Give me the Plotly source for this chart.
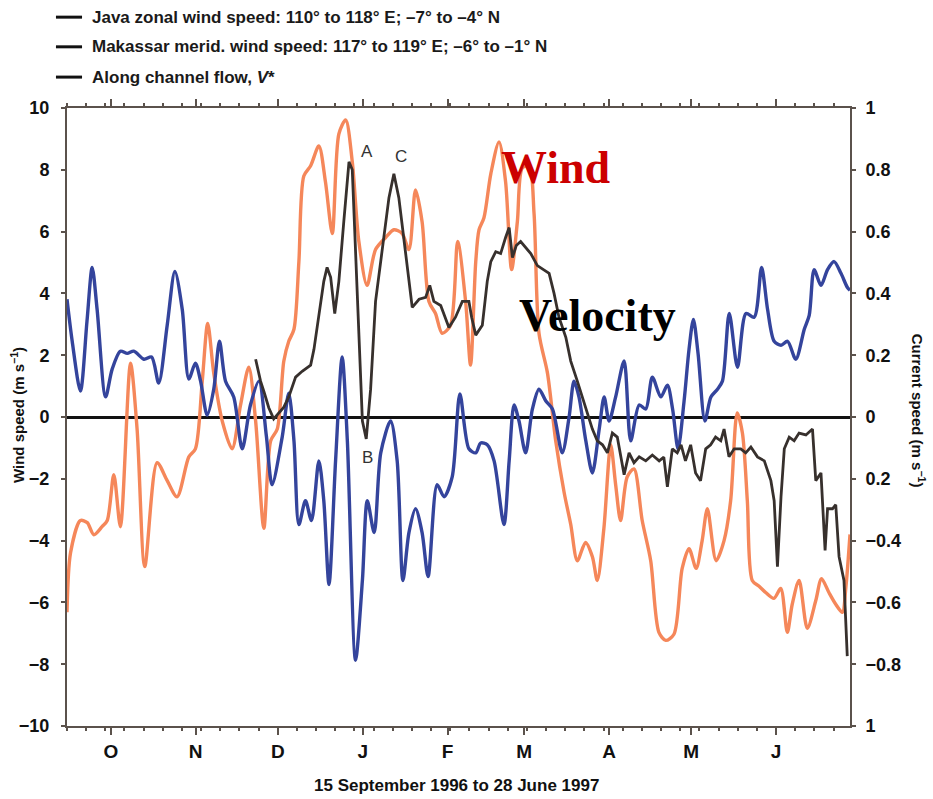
import pandas as pd
import plotly.graph_objects as go

START = pd.Timestamp("1996-09-15")
END = pd.Timestamp("1997-06-28")

# Java zonal wind speed (m/s): day offset from 15 Sep 1996, value
java_days = [0, 1.3, 4.9, 7.4, 9.8, 12.8, 14.7, 17.1, 19.5, 23.2, 25.6, 28.4, 32.9, 36.6, 40.2, 44.5,
             46.9, 49.4, 51.4, 53.6, 56.7, 60.3, 63.4, 66.4, 68.9, 71.9, 74.4, 76.8, 79.2, 81, 82.9,
             84.7, 86.5, 89, 92, 94.4, 96.9, 99.3, 101.8, 104.2, 106.6, 109.6, 112.7, 116.4, 119.4,
             122.4, 124.9, 127.3, 129.7, 132.2, 134.6, 137, 140.1, 142.7, 145.6, 147.4, 149.3, 150.5,
             152.3, 154.8, 157.8, 160.2, 162.4, 164.5, 166.3, 168.8, 170.6, 172.4, 175.5, 178.5,
             181.6, 184, 186.4, 189.4, 191.9, 193.7, 196.1, 198.6, 200.4, 202.2, 204.6, 207.1,
             210.1, 213.2, 216.2, 218.7, 221.7, 224.7, 227.2, 229.8, 232, 233.9, 237.1, 240, 242.4,
             244.8, 246.7, 248.5, 250.3, 252.8, 255.2, 258.2, 260.7, 263.1, 264.9, 267.4, 270.4,
             273.5, 275.6, 278.3, 280.8, 283.2, 284.5, 286]
java_vals = [-6.32, -4.39, -3.35, -3.42, -3.81, -3.55, -3.35, -1.87, -3.55, 1.74, -0.39, -4.84, -1.48,
             -2.06, -2.58, -1.29, -1.03, 1.16, 3.03, 1.42, -0.13, -1.03, 0.39, 1.61, -0.13, -3.6,
             -0.77, -0.39, 1.81, 2.45, 2.84, 5.03, 7.8, 8.13, 8.77, 7.61, 5.94, 9.16, 9.61, 8.26,
             5.68, 4.26, 5.42, 5.81, 6.06, 5.94, 5.42, 7.35, 6.32, 3.74, 3.35, 2.71, 2.97, 5.68,
             3.74, 1.68, 5.03, 6.06, 6.45, 7.87, 8.9, 7.61, 4.77, 6.32, 8.06, 8.13, 6.58, 2.71,
             1.42, -0.77, -2.45, -3.48, -4.65, -4.06, -4.52, -5.29, -3.61, -0.9, -2.19, -3.35,
             -1.94, -1.68, -3.35, -4.65, -6.97, -7.23, -7.03, -4.9, -4.26, -4.9, -4.0, -2.97,
             -4.65, -4.0, -2.71, 0.13, -0.52, -2.71, -5.29, -5.48, -5.68, -5.87, -5.55, -6.97,
             -6.06, -5.29, -6.84, -5.94, -5.23, -5.68, -6.06, -6.32, -5.5, -3.8]

# Makassar meridional wind speed (m/s)
mak_days = [0, 1.9, 4.9, 7.3, 9.2, 11, 14.1, 16.5, 19.5, 22, 24.4, 28.1, 30.9, 33.5, 36.6, 39.4,
            42.1, 44.5, 46.9, 48.8, 51.2, 53.6, 55.7, 57.9, 60.9, 64, 67, 70.1, 72.8, 74.9, 78.6,
            81, 82.9, 84.7, 87.1, 89.3, 92, 93.8, 95.7, 98.1, 100.5, 102.4, 105.4, 107.9, 109.7,
            112.2, 114.6, 118.2, 120.6, 122.7, 124.9, 127.3, 129.7, 131.9, 135.2, 137.7, 140.7,
            143.5, 146.8, 149.3, 151.1, 153.5, 156, 159.6, 161.5, 163.3, 165.1, 167.5, 170, 172.4,
            174.9, 177.3, 180.9, 183.4, 185.2, 187, 189.5, 191.9, 194.4, 196.2, 198, 200.4, 203.5,
            205.9, 209, 211.4, 213.8, 216.9, 219.3, 221.2, 223.2, 225.4, 227.2, 228.8, 230.5, 233,
            235.2, 237.6, 239.4, 241.9, 244.9, 248, 251, 253.7, 255.9, 258.3, 260.8, 263.2, 266.2,
            269.3, 271.1, 272.9, 275.4, 277.8, 280.2, 282.7, 285, 286]
mak_vals = [3.81, 2.45, 0.84, 3.1, 4.84, 3.48, 0.65, 1.55, 2.13, 2.06, 2.13, 1.87, 1.94, 1.1, 2.97,
            4.71, 3.48, 1.23, 1.74, 1.16, 0.06, 0.9, 2.45, 1.16, 0.65, -1.03, 0.39, 1.16, -0.6,
            -2.19, -0.65, 0.77, -0.77, -3.48, -2.71, -3.35, -1.42, -2.71, -5.42, -1.42, 1.94,
            -0.77, -7.87, -5.29, -2.71, -3.74, -1.16, -0.13, -1.42, -5.29, -3.74, -2.97, -3.74,
            -5.16, -2.19, -2.58, -1.94, 0.75, -1.03, -1.16, -0.84, -0.9, -1.42, -3.48, -1.42, 0.39,
            -0.13, -1.16, 0.26, 0.9, 0.52, 0.26, -1.16, 0.0, 1.16, 0.65, -0.77, -1.81, -0.39, 0.65,
            -0.13, 0.65, 1.81, -0.77, 0.39, 0.26, 1.29, 0.65, 1.03, 0.26, -1.03, 0.52, 2.19, 3.16,
            2.06, -0.13, 0.65, 0.9, 1.16, 3.35, 1.61, 3.35, 3.23, 4.84, 3.48, 2.45, 2.32, 2.45,
            1.87, 2.84, 3.29, 4.77, 4.26, 4.77, 5.03, 4.65, 4.2, 4.1]

# Along channel flow V* (current speed, m/s)
flow_days = [68.9, 70.7, 72, 73.7, 75.5, 77.4, 79.2, 81, 83.5, 85.9, 89, 90.2, 92, 93.8, 95, 96.3,
             97.8, 99.3, 101.1, 103, 104.2, 106, 107.9, 109.3, 110.9, 112.7, 115.2, 117.6, 119.4,
             121.2, 123.7, 126.1, 128.6, 131, 132.5, 134, 136.5, 139.5, 141.9, 144.4, 146.8, 147.8,
             149.3, 151.7, 153.5, 154.8, 156.6, 158.4, 160.2, 161.5, 162.7, 164.1, 165.7, 167.5,
             169.4, 171.8, 174.3, 176.1, 177.9, 179.7, 182.2, 184, 186.4, 188.3, 190.1, 191.9,
             193.7, 195.6, 197.4, 199.2, 201, 203.5, 205.3, 207.1, 209, 211.4, 213.8, 216.3, 218,
             219.3, 221.1, 222.9, 224.3, 225.9, 227.8, 229.6, 231.4, 233.3, 235.1, 236.9, 238.8,
             240, 241.8, 243.7, 246.1, 247.9, 249.8, 252.2, 254.7, 257.1, 258.3, 259.5, 260.8, 262,
             263.8, 265.6, 267.4, 269.9, 272.3, 273.5, 275.4, 276.9, 277.8, 279.6, 280.8, 282,
             283.8, 285]
flow_vals = [0.187, 0.116, 0.08, 0.03, -0.006, 0.013, 0.032, 0.065, 0.129, 0.148, 0.168, 0.219, 0.323,
             0.439, 0.484, 0.452, 0.335, 0.439, 0.632, 0.826, 0.80, 0.374, -0.013, -0.071, 0.09,
             0.374, 0.555, 0.71, 0.787, 0.71, 0.529, 0.355, 0.381, 0.387, 0.426, 0.374, 0.361, 0.29,
             0.323, 0.374, 0.374, 0.323, 0.265, 0.297, 0.439, 0.503, 0.535, 0.529, 0.581, 0.613,
             0.516, 0.555, 0.568, 0.548, 0.529, 0.49, 0.477, 0.465, 0.40, 0.323, 0.258, 0.181, 0.116,
             0.065, 0.013, -0.039, -0.077, -0.09, -0.116, -0.052, -0.065, -0.187, -0.116, -0.148,
             -0.129, -0.142, -0.123, -0.142, -0.13, -0.226, -0.103, -0.116, -0.09, -0.142, -0.09,
             -0.181, -0.206, -0.103, -0.09, -0.065, -0.077, -0.039, -0.129, -0.103, -0.103, -0.116,
             -0.097, -0.129, -0.142, -0.206, -0.271, -0.484, -0.258, -0.103, -0.065, -0.077, -0.052,
             -0.058, -0.039, -0.206, -0.181, -0.432, -0.297, -0.297, -0.284, -0.452, -0.529, -0.774]

month_ticks = ["1996-10-01", "1996-11-01", "1996-12-01", "1997-01-01", "1997-02-01", "1997-03-01",
               "1997-04-01", "1997-05-01", "1997-06-01"]
month_labels = ["O", "N", "D", "J", "F", "M", "A", "M", "J"]
left_ticks = [-10, -8, -6, -4, -2, 0, 2, 4, 6, 8, 10]
right_ticks = [-1, -0.8, -0.6, -0.4, -0.2, 0, 0.2, 0.4, 0.6, 0.8, 1]
right_labels = ["1", "\u22120.8", "\u22120.6", "\u22120.4", "0.2", "0", "0.2", "0.4", "0.6", "0.8", "1"]
legend_labels = ["Java zonal wind speed: 110\u00b0 to 118\u00b0 E; \u20137\u00b0 to \u20134\u00b0 N",
                 "Makassar merid. wind speed: 117\u00b0 to 119\u00b0 E; \u20136\u00b0 to \u20131\u00b0 N",
                 "Along channel flow, <i>V</i>*"]


def to_dates(days):
    return [START + pd.Timedelta(days=d) for d in days]


ORANGE = "#f5875a"
BLUE = "#34449c"
DARK = "#37302d"
AXC = "#5b524c"

fig = go.Figure()
fig.add_trace(go.Scatter(x=to_dates(java_days), y=java_vals, mode="lines",
                         line=dict(color=ORANGE, width=3.4, shape="spline", smoothing=0.8),
                         showlegend=False))
fig.add_trace(go.Scatter(x=to_dates(mak_days), y=mak_vals, mode="lines",
                         line=dict(color=BLUE, width=3.4, shape="spline", smoothing=0.8),
                         showlegend=False))
fig.add_trace(go.Scatter(x=to_dates(flow_days), y=flow_vals, mode="lines", yaxis="y2",
                         line=dict(color=DARK, width=2.8), showlegend=False))

tickfont = dict(family="Liberation Sans, Arial, sans-serif", size=18, color="#111", weight="bold")

fig.update_layout(
    width=933, height=799,
    margin=dict(l=67, r=83, t=108, b=73),
    paper_bgcolor="white", plot_bgcolor="white",
    xaxis=dict(type="date", range=[START, END], tickvals=month_ticks, ticktext=month_labels,
               ticks="outside", ticklen=7, tickwidth=1.5, tickcolor=AXC,
               minor=dict(dtick=7 * 86400000, tick0="1996-09-15", ticks="outside", ticklen=3,
                          tickcolor=AXC, showgrid=False),
               showline=True, linecolor=AXC, linewidth=2, mirror="ticks", showgrid=False,
               zeroline=False, tickfont=dict(family="Liberation Sans, Arial, sans-serif", size=19,
                                             color="#111", weight="bold")),
    yaxis=dict(range=[-10, 10], tickvals=left_ticks, ticks="outside", ticklen=4, tickwidth=2,
               tickcolor=AXC, showline=True, linecolor=AXC, linewidth=2, showgrid=False,
               zeroline=True, zerolinecolor="#111", zerolinewidth=2.5, tickfont=tickfont,
               ticklabelstandoff=8),
    yaxis2=dict(range=[-1, 1], overlaying="y", side="right", tickvals=right_ticks,
                ticktext=right_labels, ticks="outside", ticklen=4, tickwidth=2, tickcolor=AXC,
                showline=True, linecolor=AXC, linewidth=2, showgrid=False, zeroline=False,
                tickfont=tickfont, ticklabelstandoff=6),
)


def note(x, y, text, font, **kw):
    d = dict(x=x, y=y, xref="paper", yref="paper", text=text, showarrow=False,
             xanchor="center", yanchor="middle", font=font)
    d.update(kw)
    return d


ann = []
ann.append(note(-0.064, 0.503, "Wind speed (m s<sup>\u22121</sup>)",
                dict(family="Liberation Sans, Arial", size=15, color="#111", weight="bold"),
                textangle=-90))
ann.append(note(1.087, 0.51, "Current speed (m s<sup>\u22121</sup>)",
                dict(family="Liberation Sans, Arial", size=15, color="#111", weight="bold"),
                textangle=90))
ann.append(note(0.497, -0.097, "15 September 1996 to 28 June 1997",
                dict(family="Liberation Sans, Arial", size=17, color="#111", weight="bold")))
legend_y = [1.147, 1.099, 1.050]
for lab, ly in zip(legend_labels, legend_y):
    ann.append(note(0.0294, ly, lab,
                    dict(family="Liberation Sans Narrow, Arial Narrow, Liberation Sans", size=17,
                         color="#1a1a1a", weight="bold"), xanchor="left"))
lettfont = dict(family="Liberation Sans, Arial", size=17, color="#333")
ann.append(note(0.383, 0.929, "A", lettfont))
ann.append(note(0.426, 0.921, "C", lettfont))
ann.append(note(0.384, 0.434, "B", lettfont))
ann.append(note(0.6245, 0.9045, "Wind",
                dict(family="Liberation Serif, Times New Roman, serif", size=46, color="#cc0000",
                     weight="bold")))
ann.append(note(0.678, 0.665, "Velocity",
                dict(family="Liberation Serif, Times New Roman, serif", size=46, color="#000",
                     weight="bold")))
fig.update_layout(annotations=ann)

shapes = []
for ly in legend_y:
    shapes.append(dict(type="line", xref="paper", yref="paper", x0=-0.0141, x1=0.0192, y0=ly, y1=ly,
                       line=dict(color="#111", width=3)))
fig.update_layout(shapes=shapes)

fig.write_html("out.html")
